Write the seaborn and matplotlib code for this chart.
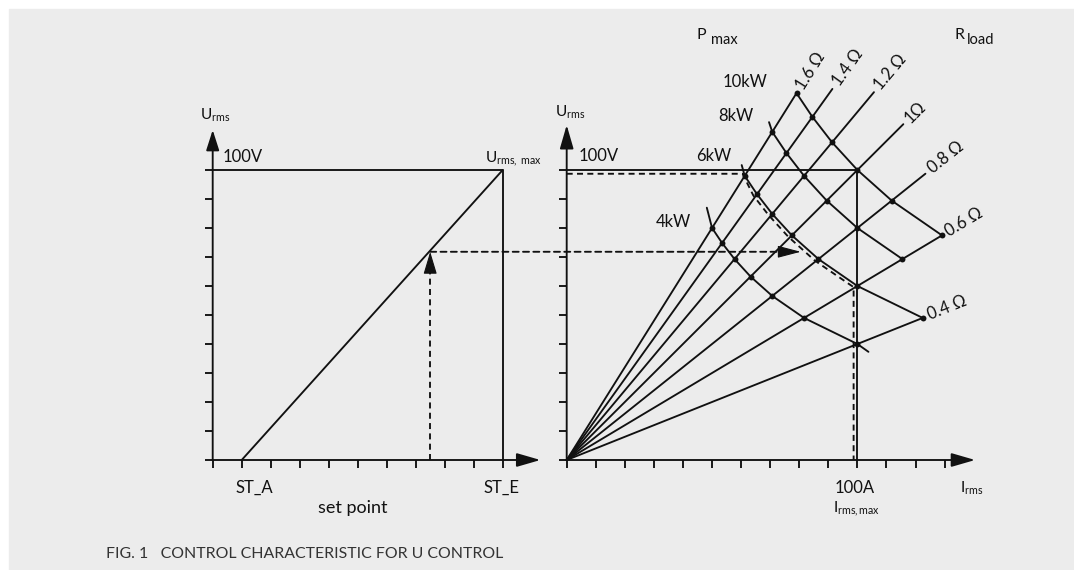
import numpy as np
import pandas as pd
import matplotlib
matplotlib.use("Agg")
import matplotlib.pyplot as plt
from matplotlib.patches import Rectangle, ConnectionPatch
import seaborn as sns

# ---- data -------------------------------------------------------------
# left panel: set point -> U_rms
sp_ticks = list(range(0, 11))
u_ticks = list(range(0, 101, 10))
sp_line_x = [1, 10]          # ST_A .. ST_E
sp_line_u = [0, 100]
sp_marker = 7.5              # chosen set point
sp_marker_u = 71.8           # resulting U_rms

# right panel: I_rms -> U_rms
i_ticks = list(range(0, 131, 10))
r_values = [1.6, 1.4, 1.2, 1.0, 0.8, 0.6, 0.4]
r_labels = ["1.6 Ω", "1.4 Ω", "1.2 Ω", "1Ω", "0.8 Ω", "0.6 Ω", "0.4 Ω"]
r_end_current = [79.1, 91.4, 105.7, 115.8, 123.4, 129.1, 122.5]

p_values = [4000, 6000, 8000, 10000]
p_labels = ["4kW", "6kW", "8kW", "10kW"]
p_r_min = [0.4, 0.4, 0.6, 0.6]
# short overhangs of the power curves past the outer resistance lines
p_start_i = [48.2, 60.2, 69.6, None]
p_start_u = [87.0, 101.7, 116.5, None]
p_end_i = [103.8, None, None, None]
p_end_u = [37.3, None, None, None]

# dashed operating path
path_i = [0, 60.5, 64.2, 69.4, 76.2, 85.3, 98.7, 98.7]
path_u = [98.7, 98.7, 91.2, 84.5, 77.0, 68.8, 59.6, 0]
arrow_i = 80.5

# ---- style ------------------------------------------------------------
sns.set_theme(style="white")
plt.rcParams["font.family"] = ["Lato", "DejaVu Sans"]
plt.rcParams["mathtext.fontset"] = "custom"
plt.rcParams["mathtext.rm"] = "Lato"
plt.rcParams["mathtext.it"] = "Lato:italic"

INK = "#111111"
LW = 1.35
DASH = (0, (3.2, 2.3))
W, H = 1074, 570

fig = plt.figure(figsize=(W / 100, H / 100), dpi=100)
fig.patch.set_facecolor("white")

# background/pixel axes for the grey panel and free labels
bg = fig.add_axes([0, 0, 1, 1])
bg.set_xlim(0, W)
bg.set_ylim(H, 0)
bg.axis("off")
bg.add_patch(Rectangle((9, 9), W, H, color="#ececec", zorder=0))


def px_axes(x0, x1, y0, y1):
    return fig.add_axes([x0 / W, (H - y1) / H, (x1 - x0) / W, (y1 - y0) / H])


axL = px_axes(180, 560, 40, 540)
axL.set_xlim((180 - 212.7) / 29, (560 - 212.7) / 29)
axL.set_ylim((460 - 540) / 2.9, (460 - 40) / 2.9)

axR = px_axes(540, 1060, 40, 540)
axR.set_xlim((540 - 566.7) / 2.907, (1060 - 566.7) / 2.907)
axR.set_ylim((460 - 540) / 2.9, (460 - 40) / 2.9)


def setup(ax, xt, yt):
    ax.set_facecolor("none")
    for s in ax.spines.values():
        s.set_visible(False)
    ax.spines["left"].set_position(("data", 0))
    ax.spines["bottom"].set_position(("data", 0))
    ax.set_xticks(xt)
    ax.set_yticks(yt)
    ax.set_xticklabels([])
    ax.set_yticklabels([])
    ax.tick_params(bottom=True, left=True, direction="out", length=5.8,
                   width=LW, color=INK)
    ax.set_xlabel("")
    ax.set_ylabel("")


def arrow(ax, tail, tip, lw=LW, hl=1.45, hw=0.42):
    ax.annotate("", xy=tip, xytext=tail,
                arrowprops=dict(arrowstyle=f"-|>,head_length={hl},head_width={hw}",
                                lw=lw, color=INK, shrinkA=0, shrinkB=0,
                                mutation_scale=10), annotation_clip=False)


# ---- left panel --------------------------------------------------------
setup(axL, sp_ticks, u_ticks)
arrow(axL, (0, 0), (11.3, 0))
arrow(axL, (0, 0), (0, 113.8), hl=1.25, hw=0.4)
sns.lineplot(x=sp_line_x, y=sp_line_u, color=INK, lw=LW, ax=axL)
axL.plot([0, 10, 10], [100, 100, 0], color=INK, lw=LW)
axL.plot([sp_marker, sp_marker], [0, sp_marker_u - 6], color=INK, lw=LW, ls=DASH)
arrow(axL, (sp_marker, sp_marker_u - 7.3), (sp_marker, sp_marker_u), lw=0.8, hl=1.4, hw=0.42)
setup(axL, sp_ticks, u_ticks)

# ---- right panel -------------------------------------------------------
setup(axR, i_ticks, u_ticks)
arrow(axR, (0, 0), (140.5, 0))
arrow(axR, (0, 0), (0, 115.5))

r_rows = []
for r, ie in zip(r_values, r_end_current):
    r_rows += [{"I": 0.0, "U": 0.0, "R": r}, {"I": ie, "U": r * ie, "R": r}]
r_df = pd.DataFrame(r_rows)
sns.lineplot(data=r_df, x="I", y="U", hue="R", estimator=None, sort=False,
             palette=[INK] * len(r_values), legend=False, lw=LW, ax=axR)

p_rows, dots = [], []
for k, (p, rmin) in enumerate(zip(p_values, p_r_min)):
    if p_start_i[k] is not None:
        p_rows.append({"I": p_start_i[k], "U": p_start_u[k], "P": p})
    for r in r_values:
        if r >= rmin - 1e-9:
            pt = {"I": np.sqrt(p / r), "U": np.sqrt(p * r), "P": p}
            p_rows.append(pt)
            dots.append(pt)
    if p_end_i[k] is not None:
        p_rows.append({"I": p_end_i[k], "U": p_end_u[k], "P": p})
p_df = pd.DataFrame(p_rows)
sns.lineplot(data=p_df, x="I", y="U", hue="P", estimator=None, sort=False,
             palette=[INK] * len(p_values), legend=False, lw=LW, ax=axR)
dot_df = pd.DataFrame(dots)
sns.scatterplot(data=dot_df, x="I", y="U", color=INK, s=18, linewidth=0,
                ax=axR, zorder=5)

axR.plot([0, 100, 100], [100, 100, 0], color=INK, lw=LW)
axR.plot(path_i, path_u, color=INK, lw=LW, ls=DASH)
arrow(axR, (arrow_i - 7.5, sp_marker_u), (arrow_i, sp_marker_u), lw=0.8, hl=1.45, hw=0.38)
setup(axR, i_ticks, u_ticks)

con = ConnectionPatch(xyA=(sp_marker, sp_marker_u), coordsA=axL.transData,
                      xyB=(arrow_i - 7.0, sp_marker_u), coordsB=axR.transData,
                      color=INK, lw=LW, ls=DASH)
fig.add_artist(con)

# resistance labels along their lines
for r, ie, lab in zip(r_values, r_end_current, r_labels):
    ang = np.degrees(np.arctan2(r * 2.9, 2.907))
    d = 4.0
    axR.annotate(lab, xy=(ie, r * ie),
                 xytext=(d * np.cos(np.radians(ang)), d * np.sin(np.radians(ang))),
                 textcoords="offset points", rotation=ang, rotation_mode="anchor",
                 ha="left", va="center", fontsize=12, color=INK,
                 annotation_clip=False)

# ---- free labels (pixel positions) -------------------------------------
def lab(x, y, s, size=12, **kw):
    bg.text(x, y, s, fontsize=size, color=INK, ha="left", va="baseline", **kw)


lab(200, 120, r"U$_{\mathrm{rms}}$", 11)
lab(223, 162, "100V")
lab(485, 162, r"U$_{\mathrm{rms,\ max}}$", 11)
lab(235, 493, "ST_A")
lab(318, 513.5, "set point", 13)
lab(483, 493, "ST_E")

lab(555, 117, r"U$_{\mathrm{rms}}$", 11)
lab(579, 161, "100V")
for s, (x, y) in zip(p_labels, [(656, 227), (696, 161), (718, 121), (723, 87)]):
    lab(x, y, s)
lab(835, 493, "100A")
lab(833, 512, r"I$_{\mathrm{rms,max}}$", 11)
lab(960, 493, r"I$_{\mathrm{rms}}$", 11)
lab(697, 39, "P", 11.5)
lab(711, 44, "max", 10.5)
lab(955, 39, "R", 11.5)
lab(967, 44, "load", 10.5)

fig.text(106 / W, (H - 558) / H, "FIG. 1   CONTROL CHARACTERISTIC FOR U CONTROL",
         fontsize=11.4, color="#333333", ha="left", va="baseline")

fig.savefig("out.png", dpi=100, facecolor="white")
